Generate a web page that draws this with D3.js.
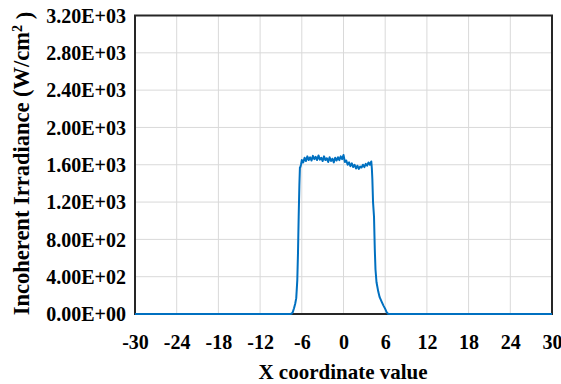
<!DOCTYPE html>
<html>
<head>
<meta charset="utf-8">
<script src="https://cdn.jsdelivr.net/npm/d3@7"></script>
<style>
  html, body { margin: 0; padding: 0; background: #fff; }
  svg { display: block; }
  text { font-family: "Liberation Serif", "Times New Roman", serif; font-weight: bold; fill: #000; }
</style>
</head>
<body>
<svg id="chart" width="561" height="384"></svg>
<script>
// Irradiance profile along the X coordinate (W/cm²)
const xValues = [
  -30, -7.6, -7.45, -7.3, -7.12, -6.95, -6.8, -6.65, -6.55, -6.45, -6.35, -6.27,
  -6.2, -6.1,
  -6.0, -5.8, -5.6, -5.4, -5.2, -5.0, -4.8, -4.6, -4.4, -4.2,
  -4.0, -3.8, -3.6, -3.4, -3.2, -3.0, -2.8, -2.6, -2.4, -2.2,
  -2.0, -1.8, -1.6, -1.4, -1.2, -1.0, -0.8, -0.6, -0.4, -0.2,
  0.0, 0.2, 0.4, 0.6, 0.8, 1.0, 1.2, 1.4, 1.6, 1.8,
  2.0, 2.2, 2.4, 2.6, 2.8, 3.0, 3.2, 3.4, 3.6, 3.8, 4.0,
  4.08, 4.15, 4.25, 4.39, 4.5, 4.6, 4.75, 5.0, 5.2,
  5.5, 5.75, 6.0, 6.2, 6.4, 6.6, 30
];
const irradiance = [
  0, 0, 5, 20, 61, 110, 170, 360, 650, 1040, 1380, 1570,
  1575, 1605,
  1650, 1625, 1675, 1640, 1690, 1650, 1680, 1645, 1695, 1660,
  1685, 1650, 1700, 1655, 1675, 1640, 1690, 1650, 1670, 1630,
  1680, 1640, 1665, 1625, 1675, 1645, 1680, 1650, 1690, 1660,
  1705, 1630, 1645, 1600, 1625, 1585, 1615, 1575, 1600, 1560,
  1590, 1555, 1580, 1570, 1600, 1575, 1610, 1590, 1625, 1600, 1635,
  1560, 1450, 1200, 1043, 700, 480, 340, 240, 180,
  130, 90, 55, 20, 3, 0, 0
];
const xTicks = [-30, -24, -18, -12, -6, 0, 6, 12, 18, 24, 30];
const yTicks = [0, 400, 800, 1200, 1600, 2000, 2400, 2800, 3200];
const yTickLabels = ["0.00E+00", "4.00E+02", "8.00E+02", "1.20E+03", "1.60E+03",
                     "2.00E+03", "2.40E+03", "2.80E+03", "3.20E+03"];

const width = 561, height = 384;
const margin = { top: 15.5, right: 9, bottom: 70, left: 135 };
const innerW = width - margin.left - margin.right;
const innerH = height - margin.top - margin.bottom;

const svg = d3.select("#chart");
const g = svg.append("g").attr("transform", `translate(${margin.left},${margin.top})`);

const x = d3.scaleLinear().domain([-30, 30]).range([0, innerW]);
const y = d3.scaleLinear().domain([0, 3200]).range([innerH, 0]);

// Gridlines
g.append("g").selectAll("line").data(xTicks).join("line")
  .attr("x1", d => x(d)).attr("x2", d => x(d))
  .attr("y1", 0).attr("y2", innerH)
  .attr("stroke", "#d9d9d9").attr("stroke-width", 1);
g.append("g").selectAll("line").data(yTicks).join("line")
  .attr("x1", 0).attr("x2", innerW)
  .attr("y1", d => y(d)).attr("y2", d => y(d))
  .attr("stroke", "#d9d9d9").attr("stroke-width", 1);

// Plot frame
g.append("rect")
  .attr("x", 0).attr("y", 0).attr("width", innerW).attr("height", innerH)
  .attr("fill", "none").attr("stroke", "#262626").attr("stroke-width", 2);

// Axes (labels only; the frame draws the lines)
const xAxis = g.append("g").attr("transform", `translate(0,${innerH})`)
  .call(d3.axisBottom(x).tickValues(xTicks).tickSize(0).tickPadding(0).tickFormat(d => String(d)));
xAxis.select(".domain").remove();
xAxis.selectAll("text")
  .attr("y", 35).attr("dy", null)
  .style("font-size", "20px");

const yAxis = g.append("g")
  .call(d3.axisLeft(y).tickValues(yTicks).tickSize(0).tickPadding(0)
    .tickFormat((d, i) => yTickLabels[i]));
yAxis.select(".domain").remove();
yAxis.selectAll("text")
  .attr("x", -9).attr("dy", "0.34em")
  .style("font-size", "20px");

// Irradiance curve
const line = d3.line()
  .x((d, i) => x(xValues[i]))
  .y(d => y(d));
g.append("path")
  .datum(irradiance)
  .attr("fill", "none")
  .attr("stroke", "#0070c0")
  .attr("stroke-width", 2)
  .attr("stroke-linejoin", "round")
  .attr("d", line);

// Axis titles
svg.append("text")
  .attr("x", margin.left + innerW / 2 - 0.5)
  .attr("y", 379)
  .attr("text-anchor", "middle")
  .style("font-size", "21px")
  .text("X coordinate value");

const yTitle = svg.append("text")
  .attr("transform", `translate(28.5,163.5) rotate(-90)`)
  .attr("text-anchor", "middle")
  .style("font-size", "22.5px");
yTitle.append("tspan").text("Incoherent Irradiance (W/cm");
yTitle.append("tspan").attr("dy", "-0.45em").style("font-size", "14px").text("2");
yTitle.append("tspan").attr("dy", "0.45em").text(" )");
</script>
</body>
</html>
